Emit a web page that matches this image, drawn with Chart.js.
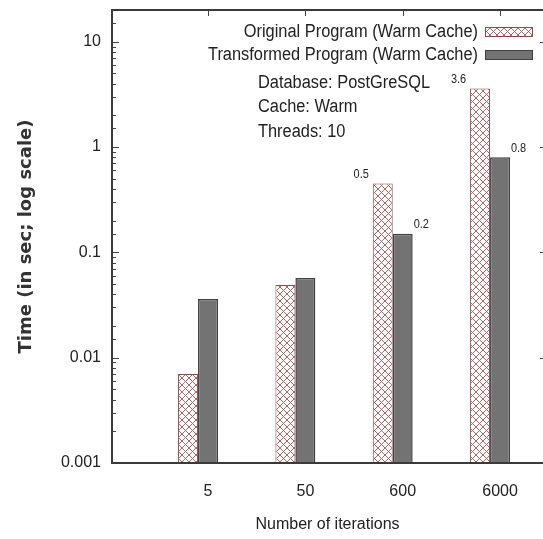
<!DOCTYPE html>
<html>
<head>
<meta charset="utf-8">
<script src="https://cdn.jsdelivr.net/npm/chart.js@4.4.1/dist/chart.umd.min.js"></script>
<style>
  html, body { margin: 0; padding: 0; background: #fff; overflow: hidden; }
  #wrap { width: 543px; height: 539px; }
</style>
</head>
<body>
<div id="wrap"><canvas id="timeChart" width="543" height="539"></canvas></div>
<script>
// values
const iterations = ['5', '50', '600', '6000'];
const originalTimes = [0.007, 0.049, 0.45, 3.6];
const transformedTimes = [0.036, 0.057, 0.15, 0.8];
const originalValueLabels = ['', '', '0.5', '3.6'];
const transformedValueLabels = ['', '', '0.2', '0.8'];
const yTickValues = [0.001, 0.01, 0.1, 1, 10];
const seriesNames = ['Original Program (Warm Cache)', 'Transformed Program (Warm Cache)'];
const noteLines = ['Database: PostGreSQL', 'Cache: Warm', 'Threads: 10'];

const SANS = "'Liberation Sans', Arial, sans-serif";
const INK = '#222';

function makeHatch(ctx) {
    const tile = document.createElement('canvas');
    tile.width = 7;
    tile.height = 7;
    const t = tile.getContext('2d');
    t.fillStyle = '#fff';
    t.fillRect(0, 0, 7, 7);
    t.strokeStyle = '#b06666';
    t.lineWidth = 1;
    t.beginPath();
    t.moveTo(0, 0); t.lineTo(7, 7);
    t.moveTo(7, 0); t.lineTo(0, 7);
    t.stroke();
    return ctx.createPattern(tile, 'repeat');
}

// gnuplot used a condensed face; squeeze the key text a little
function narrowText(ctx, text, x, y, align) {
    ctx.save();
    ctx.translate(x, y);
    ctx.scale(0.91, 1);
    ctx.textAlign = align;
    ctx.fillText(text, 0, 0);
    ctx.restore();
}

const ctx = document.getElementById('timeChart').getContext('2d');
const hatch = makeHatch(ctx);

const framePlugin = {
    id: 'gnuplotFrame',
    beforeDatasetsDraw(chart) {
        // inward ticks, under the bars
        const { ctx, chartArea: a, scales: { x, y } } = chart;
        ctx.save();
        ctx.strokeStyle = '#444';
        ctx.lineWidth = 1;
        ctx.beginPath();
        y.ticks.forEach(t => {
            const py = Math.round(y.getPixelForValue(t.value)) + 0.5;
            const major = yTickValues.some(v => Math.abs(Math.log10(v) - Math.log10(t.value)) < 1e-6);
            const len = major ? 7 : 4;
            ctx.moveTo(a.left, py); ctx.lineTo(a.left + len, py);
            ctx.moveTo(a.right + 4, py); ctx.lineTo(a.right + 4 - len, py);
        });
        iterations.forEach((_, i) => {
            const px = Math.round(x.getPixelForValue(i) + 10) + 0.5;
            ctx.moveTo(px, a.top); ctx.lineTo(px, a.top + 6);
            ctx.moveTo(px, a.bottom); ctx.lineTo(px, a.bottom - 6);
        });
        ctx.stroke();
        ctx.restore();
    },
    afterDatasetsDraw(chart) {
        const { ctx, chartArea: a } = chart;
        ctx.save();

        // border: left, top, bottom (right side falls off the picture)
        ctx.strokeStyle = '#3a3a3a';
        ctx.lineWidth = 2;
        ctx.beginPath();
        ctx.moveTo(a.right, a.top); ctx.lineTo(a.left, a.top);
        ctx.lineTo(a.left, a.bottom); ctx.lineTo(a.right, a.bottom);
        ctx.stroke();

        // value labels next to the bars
        ctx.fillStyle = INK;
        ctx.font = '12px ' + SANS;
        ctx.textBaseline = 'bottom';
        chart.data.datasets.forEach((ds, di) => {
            chart.getDatasetMeta(di).data.forEach((bar, i) => {
                const txt = ds.valueLabels[i];
                if (!txt) return;
                const { x, y, width } = bar.getProps(['x', 'y', 'width'], true);
                if (di === 0) {
                    narrowText(ctx, txt, x - width / 2 - 4, y - 3, 'right');
                } else {
                    narrowText(ctx, txt, x + width / 2 + 1, y - 3, 'left');
                }
            });
        });

        // key: text right aligned, sample on the right
        ctx.font = '18px ' + SANS;
        ctx.textBaseline = 'middle';
        chart.data.datasets.forEach((ds, di) => {
            const rowY = 32 + di * 23;
            ctx.fillStyle = INK;
            narrowText(ctx, ds.label, 478, rowY, 'right');
            ctx.fillStyle = ds.backgroundColor;
            ctx.fillRect(485, rowY - 5, 48, 10);
            ctx.strokeStyle = ds.borderColor;
            ctx.lineWidth = 1;
            ctx.strokeRect(485.5, rowY - 4.5, 47, 9);
        });

        // run details
        ctx.fillStyle = INK;
        noteLines.forEach((line, i) => {
            narrowText(ctx, line, 258, 83 + i * 24.5, 'left');
        });
        ctx.restore();
    }
};

new Chart(ctx, {
    type: 'bar',
    data: {
        datasets: [
            {
                label: seriesNames[0],
                data: originalTimes.map((v, i) => ({ x: i, y: v })),
                backgroundColor: hatch,
                borderColor: '#8c4a4a',
                borderWidth: 1,
                valueLabels: originalValueLabels
            },
            {
                label: seriesNames[1],
                data: transformedTimes.map((v, i) => ({ x: i, y: v })),
                backgroundColor: '#737373',
                borderColor: '#404040',
                borderWidth: 1.5,
                valueLabels: transformedValueLabels
            }
        ]
    },
    options: {
        responsive: false,
        animation: false,
        devicePixelRatio: 1,
        layout: { padding: { left: 0, right: 0, top: 10, bottom: 0 } },
        categoryPercentage: 0.41,
        barPercentage: 1,
        plugins: {
            legend: { display: false },
            tooltip: { enabled: false }
        },
        scales: {
            x: {
                type: 'linear',
                offset: false,
                min: -0.884,
                max: 3.544,
                grid: { display: false, drawTicks: false },
                border: { display: false },
                ticks: {
                    stepSize: 1,
                    includeBounds: false,
                    autoSkip: false,
                    maxRotation: 0,
                    padding: 19,
                    labelOffset: 10,
                    color: INK,
                    font: { family: SANS, size: 16 },
                    callback: v => iterations[v] ?? ''
                },
                title: {
                    display: true,
                    text: 'Number of iterations',
                    color: INK,
                    font: { family: SANS, size: 16 },
                    padding: { top: 0, bottom: 5 }
                },
                afterFit: s => {
                    s.height = 76;
                    s.paddingLeft = 0;
                    s.paddingRight = 0;
                }
            },
            y: {
                type: 'logarithmic',
                min: 0.001,
                max: 20,
                grid: { display: false, drawTicks: false },
                border: { display: false },
                ticks: {
                    autoSkip: false,
                    padding: 11,
                    color: INK,
                    font: { family: SANS, size: 16 },
                    callback: v => {
                        const hit = yTickValues.find(t => Math.abs(Math.log10(t) - Math.log10(v)) < 1e-6);
                        return hit === undefined ? '' : String(hit);
                    }
                },
                title: {
                    display: true,
                    text: 'Time (in sec; log scale)',
                    color: '#333',
                    font: { family: 'DejaVu Sans', size: 18, weight: 'bold' },
                    padding: { top: 16, bottom: 0 }
                },
                afterFit: s => {
                    s.width = 112;
                    s.paddingTop = 0;
                    s.paddingBottom = 0;
                }
            }
        }
    },
    plugins: [framePlugin]
});
</script>
</body>
</html>
